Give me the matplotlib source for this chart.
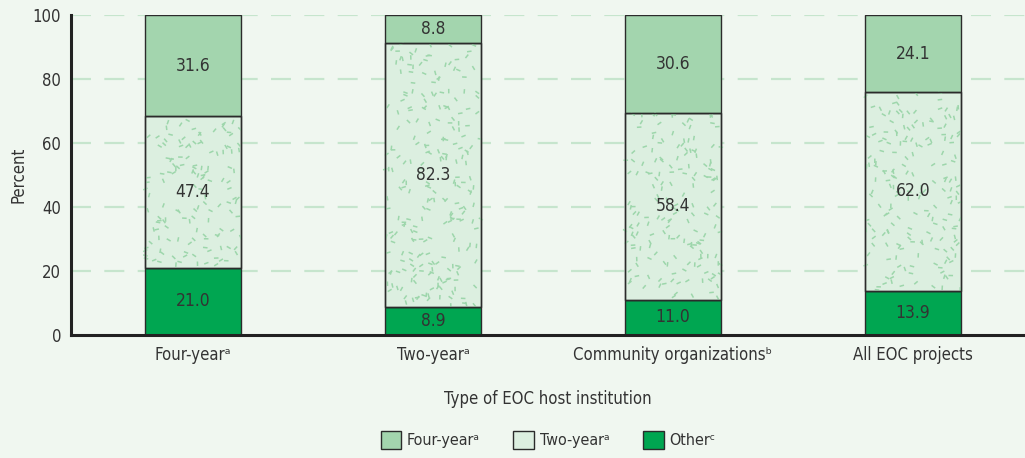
import numpy as np
import matplotlib
matplotlib.use("Agg")
import matplotlib.pyplot as plt
from matplotlib.collections import LineCollection
from matplotlib.patches import Patch
from matplotlib import font_manager

categories = ["Four-year\u1d43", "Two-year\u1d43",
              "Community organizations\u1d47", "All EOC projects"]
other = [21.0, 8.9, 11.0, 13.9]
two_year = [47.4, 82.3, 58.4, 62.0]
four_year = [31.6, 8.8, 30.6, 24.1]
series_names = ["Four-year\u1d43", "Two-year\u1d43", "Other\u1d9c"]
yticks = [0, 20, 40, 60, 80, 100]

names = {f.name for f in font_manager.fontManager.ttflist}
if "Liberation Sans Narrow" in names:
    plt.rcParams["font.family"] = ["Liberation Sans Narrow", "DejaVu Sans"]
else:
    plt.rcParams["font.family"] = ["DejaVu Sans"]
    plt.rcParams["font.stretch"] = "condensed"

BG = "#f0f7f0"
C_FOUR = "#a3d5ae"
C_TWO = "#dcefe0"
C_SPECK = "#9dd6ab"
C_OTHER = "#00a651"
EDGE = "#2b2b2b"
TXT = "#333333"

fig = plt.figure(figsize=(10.25, 4.58), dpi=100, facecolor=BG)
ax = fig.add_axes([71 / 1025, 123 / 458, 954 / 1025, 320 / 458])
ax.set_facecolor(BG)

x = np.arange(len(categories))
width = 0.4

for yv in yticks[1:]:
    ax.axhline(yv, color="#c6e5cd", lw=1.6, dashes=(9, 6), zorder=0)

b_other = ax.bar(x, other, width, color=C_OTHER, edgecolor=EDGE, lw=1.0, zorder=2)
b_two = ax.bar(x, two_year, width, bottom=other, color=C_TWO, edgecolor=EDGE, lw=1.0, zorder=2)
bottom2 = np.array(other) + np.array(two_year)
b_four = ax.bar(x, four_year, width, bottom=bottom2, color=C_FOUR, edgecolor=EDGE, lw=1.0, zorder=2)

# speckled texture inside the two-year segments
rng = np.random.default_rng(7)
for rect in b_two:
    x0, y0 = rect.get_x(), rect.get_y()
    w, h = rect.get_width(), rect.get_height()
    n = int(h * 3.0)
    px = x0 + rng.random(n) * w
    py = y0 + rng.random(n) * h
    ang = rng.random(n) * np.pi
    dx = 0.019 * np.cos(ang)
    dy = 1.4 * np.sin(ang)
    segs = np.stack([np.column_stack([px - dx / 2, py - dy / 2]),
                     np.column_stack([px + dx / 2, py + dy / 2])], axis=1)
    lc = LineCollection(segs, colors=C_SPECK, linewidths=1.1, zorder=2.5)
    lc.set_clip_path(rect)
    ax.add_collection(lc)
    ax.bar(rect.get_x() + w / 2, h, w, bottom=y0, fill=False, edgecolor=EDGE, lw=1.0, zorder=3)

for bars, vals in ((b_other, other), (b_two, two_year), (b_four, four_year)):
    for rect, v in zip(bars, vals):
        ax.text(rect.get_x() + rect.get_width() / 2, rect.get_y() + rect.get_height() / 2,
                f"{v:.1f}", ha="center", va="center", fontsize=12.5, color=TXT, zorder=4)

ax.set_xlim(-0.508, 3.467)
ax.set_ylim(0, 100)
ax.set_yticks(yticks)
ax.set_xticks(x)
ax.set_xticklabels(categories)
ax.tick_params(axis="both", length=0, labelsize=12, colors=TXT, pad=7)
ax.tick_params(axis="x", pad=8)
for s in ("top", "right"):
    ax.spines[s].set_visible(False)
for s in ("left", "bottom"):
    ax.spines[s].set_linewidth(2.2)
    ax.spines[s].set_color("#222222")
    ax.spines[s].set_zorder(5)

ax.set_ylabel("Percent", fontsize=12, color=TXT, labelpad=4)
ax.set_xlabel("Type of EOC host institution", fontsize=12, color=TXT, labelpad=19)

handles = [Patch(facecolor=C_FOUR, edgecolor=EDGE, lw=1.0),
           Patch(facecolor=C_TWO, edgecolor=EDGE, lw=1.0),
           Patch(facecolor=C_OTHER, edgecolor=EDGE, lw=1.0)]
fig.legend(handles, series_names, loc="center", bbox_to_anchor=(548 / 1025, 18 / 458),
           ncol=3, frameon=False, fontsize=11.5, handlelength=1.3, handleheight=1.3,
           columnspacing=2.1, handletextpad=0.35, labelcolor=TXT)

fig.savefig("out.png", dpi=100, facecolor=BG)
